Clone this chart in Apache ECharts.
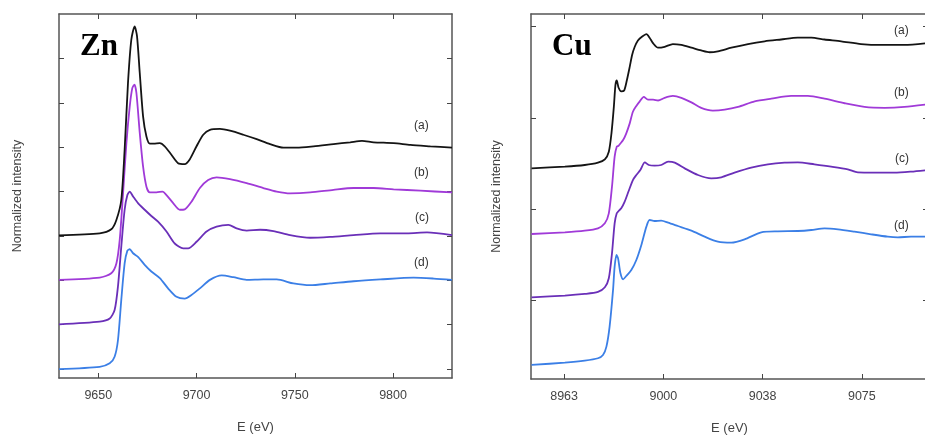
<!DOCTYPE html>
<html>
<head>
<meta charset="utf-8">
<script src="https://cdn.jsdelivr.net/npm/echarts@6/dist/echarts.min.js"></script>
<style>
html,body{margin:0;padding:0;background:#fff;}
#c{width:925px;height:435px;}
</style>
</head>
<body>
<div id="c"></div>
<script>
// ---------- Zn K-edge (left panel) ----------
const znTicksX = [9650, 9700, 9750, 9800];
const znTicksY = [0, 1, 2, 3, 4, 5, 6, 7];
const znA = [[9630,3.015],[9650.7,3.06],[9656.6,3.15],[9659.2,3.36],[9661.7,3.81],[9663.4,4.94],[9665.1,6.44],[9666.8,7.42],[9668.5,7.72],[9669.7,7.50],[9671.1,6.67],[9672.8,5.69],[9674.5,5.24],[9676.2,5.08],[9678.2,5.08],[9681.3,5.09],[9683.8,5.02],[9687.2,4.83],[9690.6,4.64],[9694.0,4.62],[9696.6,4.73],[9700,5.02],[9703.4,5.28],[9706.8,5.39],[9711.9,5.41],[9717.0,5.37],[9723.8,5.28],[9730.6,5.18],[9737.4,5.07],[9744.2,4.99],[9751.0,4.99],[9759.5,5.02],[9769.7,5.07],[9778.2,5.11],[9784.2,5.14],[9790.1,5.11],[9800.3,5.09],[9808.8,5.05],[9819.0,5.02],[9830,4.99]];
const znB = [[9630,2.01],[9650.7,2.06],[9656.6,2.16],[9659.2,2.38],[9660.9,2.91],[9662.6,3.96],[9664.3,5.09],[9666.0,5.92],[9667.3,6.33],[9668.4,6.41],[9669.4,6.22],[9671.1,5.32],[9672.8,4.56],[9674.5,4.11],[9676.2,3.98],[9679.6,3.98],[9682.7,4.00],[9684.7,3.92],[9688.1,3.74],[9691.5,3.59],[9694.0,3.60],[9697.4,3.77],[9701.7,4.08],[9705.9,4.26],[9710.2,4.32],[9717.0,4.28],[9725.5,4.19],[9734.0,4.08],[9740.8,4.00],[9747.6,3.96],[9757.8,3.98],[9769.7,4.04],[9779.9,4.08],[9790.1,4.08],[9800.3,4.05],[9813.9,4.02],[9830,3.98]];
const znC = [[9630,1.01],[9650.7,1.07],[9655.8,1.14],[9658.3,1.33],[9660.0,1.86],[9661.7,2.76],[9663.4,3.59],[9664.8,3.92],[9666.0,4.00],[9667.7,3.89],[9670.2,3.74],[9673.6,3.59],[9677.0,3.45],[9680.4,3.32],[9684.7,3.10],[9688.9,2.83],[9693.2,2.72],[9695.7,2.72],[9700,2.87],[9705.1,3.10],[9710.2,3.21],[9716.2,3.25],[9720.4,3.17],[9725.5,3.12],[9732.3,3.14],[9739.1,3.11],[9747.6,3.02],[9757.8,2.96],[9768.0,2.98],[9779.9,3.02],[9793.5,3.06],[9807.1,3.06],[9817.3,3.08],[9830,3.02]];
const znD = [[9630,0.0],[9650.7,0.05],[9655.8,0.13],[9658.3,0.28],[9660.0,0.65],[9661.7,1.56],[9663.4,2.38],[9664.8,2.67],[9666.0,2.70],[9667.7,2.61],[9670.2,2.53],[9673.6,2.35],[9677.0,2.20],[9681.3,2.05],[9685.5,1.82],[9689.8,1.63],[9694.0,1.59],[9697.4,1.67],[9701.7,1.82],[9706.8,2.01],[9712.8,2.11],[9718.7,2.07],[9725.5,2.01],[9734.0,2.02],[9740.8,2.02],[9749.3,1.93],[9757.8,1.89],[9768.0,1.93],[9779.9,1.98],[9793.5,2.02],[9810.5,2.06],[9820.7,2.04],[9830,2.01]];

// ---------- Cu K-edge (right panel) ----------
const cuTicksX = [8962.5, 9000, 9037.5, 9075];
const cuTicksY = [0, 1, 2, 3];
const cuA = [[8950.2,1.445],[8962.8,1.464],[8970.3,1.482],[8975.3,1.508],[8977.9,1.544],[8979.4,1.628],[8980.4,1.83],[8981.3,2.12],[8981.9,2.36],[8982.4,2.41],[8983.1,2.33],[8984.1,2.29],[8985.2,2.30],[8986.2,2.41],[8987.3,2.56],[8988.2,2.69],[8989.2,2.78],[8990.4,2.85],[8991.9,2.89],[8993.6,2.92],[8994.8,2.88],[8996.1,2.82],[8998.0,2.77],[9000.5,2.78],[9003.6,2.81],[9006.8,2.80],[9010.6,2.77],[9014.3,2.74],[9017.5,2.72],[9020.6,2.73],[9025.7,2.77],[9032.0,2.81],[9038.3,2.84],[9044.5,2.86],[9050.8,2.88],[9055.9,2.88],[9060.9,2.86],[9067.2,2.84],[9074.7,2.81],[9082.3,2.80],[9091.1,2.80],[9100,2.82]];
const cuB = [[8950.2,0.724],[8962.8,0.743],[8970.3,0.761],[8975.3,0.787],[8977.9,0.842],[8979.4,0.951],[8980.6,1.244],[8981.6,1.573],[8982.4,1.683],[8983.1,1.694],[8983.6,1.712],[8984.8,1.756],[8986.0,1.83],[8987.3,1.939],[8988.5,2.067],[8989.8,2.13],[8991.1,2.18],[8992.6,2.23],[8994.2,2.20],[8996.1,2.20],[8998.0,2.19],[9000.5,2.22],[9003.6,2.24],[9006.8,2.22],[9010.6,2.17],[9014.3,2.11],[9018.7,2.08],[9023.2,2.09],[9028.2,2.12],[9034.5,2.18],[9040.8,2.21],[9048.3,2.24],[9054.6,2.24],[9060.9,2.21],[9068.5,2.16],[9076.0,2.12],[9083.6,2.11],[9091.1,2.12],[9100,2.15]];
const cuC = [[8950.2,0.029],[8962.8,0.048],[8970.3,0.066],[8975.3,0.088],[8977.9,0.139],[8979.4,0.238],[8980.6,0.512],[8981.6,0.842],[8982.4,0.951],[8983.1,0.977],[8984.1,1.006],[8985.4,1.079],[8986.9,1.196],[8988.5,1.317],[8989.8,1.372],[8991.3,1.427],[8993.0,1.511],[8994.5,1.482],[8996.7,1.475],[8999.2,1.482],[9001.8,1.518],[9004.3,1.508],[9008.1,1.445],[9013.1,1.372],[9018.1,1.336],[9021.9,1.347],[9026.9,1.398],[9033.2,1.453],[9039.5,1.489],[9045.8,1.508],[9050.8,1.511],[9057.1,1.489],[9063.4,1.464],[9069.7,1.434],[9073.5,1.401],[9079.8,1.398],[9087.3,1.398],[9093.6,1.409],[9100,1.427]];
const cuD = [[8950.2,-0.714],[8962.8,-0.688],[8970.3,-0.666],[8975.3,-0.64],[8977.2,-0.604],[8978.5,-0.512],[8979.7,-0.293],[8981.0,0.11],[8981.6,0.366],[8982.3,0.494],[8982.9,0.457],[8983.8,0.293],[8984.8,0.227],[8986.0,0.263],[8987.9,0.329],[8989.8,0.439],[8991.7,0.604],[8993.6,0.805],[8994.8,0.878],[8996.7,0.867],[8999.2,0.871],[9001.8,0.849],[9005.5,0.812],[9010.6,0.761],[9015.6,0.695],[9020.6,0.64],[9025.7,0.629],[9030.7,0.666],[9037.0,0.743],[9043.3,0.754],[9050.8,0.757],[9055.9,0.768],[9060.9,0.787],[9066.0,0.776],[9072.2,0.75],[9078.5,0.721],[9084.8,0.695],[9088.6,0.688],[9093.6,0.695],[9100,0.695]];

const seriesLabels = ['(a)', '(b)', '(c)', '(d)'];
const colors = ['#141414', '#a03ad8', '#6a2fb8', '#3b7fe6'];

const chart = echarts.init(document.getElementById('c'), null, {renderer: 'canvas'});
const frame = {show: true, onZero: false, lineStyle: {color: '#555', width: 1.5}};
const tickStyle = {color: '#444', width: 1};
const font = 'Liberation Sans, Arial, sans-serif';

function xAxes(gi, min, max, ticks, fmt) {
  return [
    {type: 'value', gridIndex: gi, min: min, max: max, position: 'bottom',
     axisLine: frame, splitLine: {show: false},
     axisTick: {show: true, inside: true, length: 5, lineStyle: tickStyle, customValues: ticks},
     axisLabel: {show: true, customValues: ticks, margin: 11, color: '#444', fontSize: 12.5, fontFamily: font, formatter: fmt},
     name: 'E (eV)', nameLocation: 'middle', nameGap: 43,
     nameTextStyle: {color: '#444', fontSize: 13, fontFamily: font}},
    {type: 'value', gridIndex: gi, min: min, max: max, position: 'top',
     axisLine: frame, splitLine: {show: false},
     axisTick: {show: true, inside: true, length: 5, lineStyle: tickStyle, customValues: ticks},
     axisLabel: {show: false}}
  ];
}
function yAxes(gi, min, max, ticks, gap) {
  return [
    {type: 'value', gridIndex: gi, min: min, max: max, position: 'left',
     axisLine: frame, splitLine: {show: false},
     axisTick: {show: true, inside: true, length: 5, lineStyle: tickStyle, customValues: ticks},
     axisLabel: {show: false},
     name: 'Normalized intensity', nameLocation: 'middle', nameGap: gap, nameRotate: 90,
     nameTextStyle: {color: '#444', fontSize: 12.5, fontFamily: font}},
    {type: 'value', gridIndex: gi, min: min, max: max, position: 'right',
     axisLine: frame, splitLine: {show: false},
     axisTick: {show: true, inside: true, length: 5, lineStyle: tickStyle, customValues: ticks},
     axisLabel: {show: false}}
  ];
}
function line(data, ci, xi, yi) {
  return {type: 'line', data: data, xAxisIndex: xi, yAxisIndex: yi, showSymbol: false,
          smooth: 0.25, lineStyle: {color: colors[ci], width: 1.8}, itemStyle: {color: colors[ci]},
          silent: true, animation: false, z: 5 - ci};
}

function labelText(txt, x, y) {
  return {type: 'text', left: x, top: y, style: {text: txt, fill: '#333', font: '12px ' + font}};
}

chart.setOption({
  animation: false,
  backgroundColor: '#fff',
  grid: [
    {left: 59, top: 14, width: 393, height: 364, outerBoundsMode: 'none', containLabel: false},
    {left: 531, top: 14, width: 397, height: 365, outerBoundsMode: 'none', containLabel: false}
  ],
  xAxis: [].concat(
    xAxes(0, 9630, 9830, znTicksX, v => String(v)),
    xAxes(1, 8950, 9100, cuTicksX, v => String(Math.round(v)))
  ),
  yAxis: [].concat(
    yAxes(0, -0.2, 8.0, znTicksY, 35),
    yAxes(1, -0.868, 3.14, cuTicksY, 28)
  ),
  series: [
    line(znA, 0, 0, 0), line(znB, 1, 0, 0), line(znC, 2, 0, 0), line(znD, 3, 0, 0),
    line(cuA, 0, 2, 2), line(cuB, 1, 2, 2), line(cuC, 2, 2, 2), line(cuD, 3, 2, 2)
  ],
  graphic: [
    {type: 'text', left: 80, top: 31, style: {text: 'Zn', fill: '#000', font: 'bold 31px "Liberation Serif", "Times New Roman", serif'}},
    {type: 'text', left: 552, top: 31, style: {text: 'Cu', fill: '#000', font: 'bold 31px "Liberation Serif", "Times New Roman", serif'}},
    labelText(seriesLabels[0], 414, 120), labelText(seriesLabels[1], 414, 167),
    labelText(seriesLabels[2], 415, 212), labelText(seriesLabels[3], 414, 257),
    labelText(seriesLabels[0], 894, 25), labelText(seriesLabels[1], 894, 87),
    labelText(seriesLabels[2], 895, 153), labelText(seriesLabels[3], 894, 220)
  ]
});
</script>
</body>
</html>
